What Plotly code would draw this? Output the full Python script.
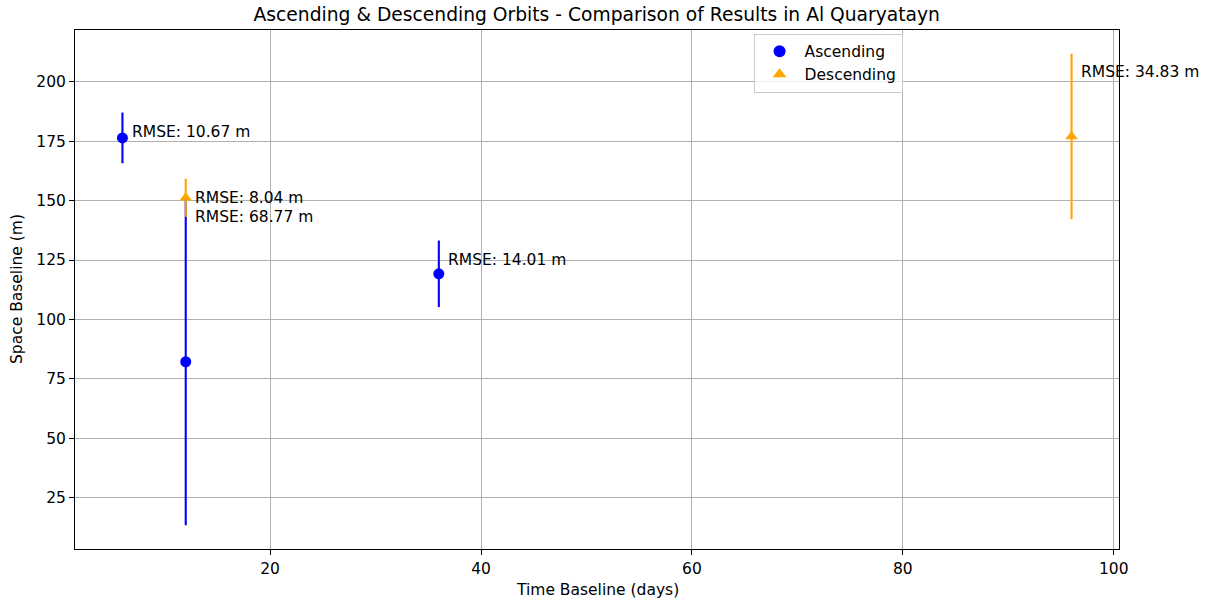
import plotly.graph_objects as go

# ---- data ----
asc_time = [6, 12, 36]
asc_space = [176.4, 82.2, 119.2]
asc_rmse = [10.67, 68.77, 14.01]

desc_time = [12, 96]
desc_space = [151.2, 177.0]
desc_rmse = [8.04, 34.83]

# label positions (y) as placed in the reference
asc_label_y = [178.8, 143.1, 125.1]
desc_label_y = [151.3, 204.3]

FONT = "DejaVu Sans"
FS = 15.5
fig = go.Figure()

fig.add_trace(go.Scatter(
    x=asc_time, y=asc_space, mode="markers", name="Ascending",
    marker=dict(color="blue", size=11, symbol="circle"),
    error_y=dict(type="data", array=asc_rmse, visible=True, color="blue", thickness=2.1, width=0),
))
fig.add_trace(go.Scatter(
    x=desc_time, y=desc_space, mode="markers", name="Descending",
    marker=dict(color="orange", size=11, symbol="triangle-up"),
    error_y=dict(type="data", array=desc_rmse, visible=True, color="orange", thickness=2.1, width=0),
))

for t, ly, r in zip(asc_time + desc_time, asc_label_y + desc_label_y, asc_rmse + desc_rmse):
    fig.add_annotation(x=t + 1, y=ly, xref="x", yref="y", text=f"RMSE: {r:.2f} m",
                       showarrow=False, xanchor="left", yanchor="middle", xshift=-3,
                       font=dict(family=FONT, size=FS, color="black"))

# axis titles
fig.add_annotation(x=0.5, y=-0.079, xref="paper", yref="paper", text="Time Baseline (days)",
                   showarrow=False, xanchor="center", yanchor="middle",
                   font=dict(family=FONT, size=FS, color="black"))
fig.add_annotation(x=-0.056, y=0.5, xref="paper", yref="paper", text="Space Baseline (m)",
                   showarrow=False, xanchor="center", yanchor="middle", textangle=-90,
                   font=dict(family=FONT, size=FS, color="black"))

axis_common = dict(
    showline=True, linecolor="black", linewidth=1, mirror=True,
    ticks="outside", ticklen=5, tickwidth=1, tickcolor="black",
    showgrid=True, gridcolor="#b0b0b0", gridwidth=1, zeroline=False,
    tickfont=dict(family=FONT, size=FS, color="black"),
)

fig.update_layout(
    width=1210, height=605,
    paper_bgcolor="white", plot_bgcolor="white",
    margin=dict(l=74.5, r=91, t=30, b=55.7),
    title=dict(text="Ascending & Descending Orbits - Comparison of Results in Al Quaryatayn",
               x=(74.5 + 1119) / 2 / 1210, xanchor="center", y=1 - 14 / 605, yanchor="middle",
               font=dict(family=FONT, size=18.7, color="black")),
    xaxis=dict(range=[1.5, 100.5], tickvals=[20, 40, 60, 80, 100], **axis_common),
    yaxis=dict(range=[3.4, 221.8], tickvals=[25, 50, 75, 100, 125, 150, 175, 200], **axis_common),
    legend=dict(x=0.650, y=0.993, xanchor="left", yanchor="top",
                bgcolor="rgba(255,255,255,0.8)", bordercolor="#cccccc", borderwidth=1,
                tracegroupgap=0, itemsizing="constant", itemwidth=40,
                font=dict(family=FONT, size=FS, color="black")),
    showlegend=True,
)

fig.write_html("out.html")
